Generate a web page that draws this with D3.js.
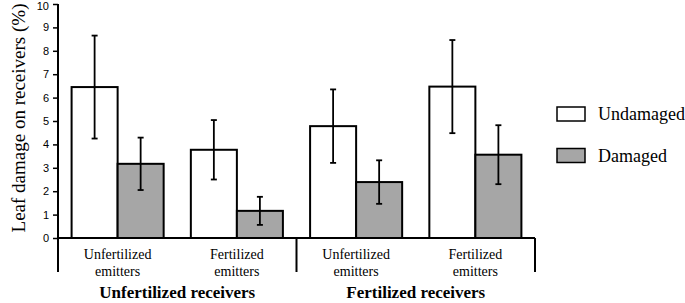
<!DOCTYPE html>
<html>
<head>
<meta charset="utf-8">
<script src="https://cdn.jsdelivr.net/npm/d3@7"></script>
<style>
  body { margin: 0; background: #fff; }
  svg { display: block; }
  .serif { font-family: 'Liberation Serif', 'Times New Roman', 'DejaVu Serif', serif; }
  .sans { font-family: 'Liberation Sans', Arial, sans-serif; }
</style>
</head>
<body>
<div id="chart"></div>
<script>
// Data
const groups = ['Unfertilized receivers', 'Fertilized receivers'];
const emitters = ['Unfertilized emitters', 'Fertilized emitters',
                  'Unfertilized emitters', 'Fertilized emitters'];
const series = ['Undamaged', 'Damaged'];
const undamaged = [6.45, 3.77, 4.78, 6.47];
const undamagedErr = [2.2, 1.27, 1.57, 1.99];
const damaged = [3.17, 1.16, 2.39, 3.56];
const damagedErr = [1.12, 0.6, 0.93, 1.26];
const yTicks = [0, 1, 2, 3, 4, 5, 6, 7, 8, 9, 10];

const width = 685, height = 303;
const plotLeft = 58, plotRight = 535, plotTop = 4, plotBottom = 238;

const svg = d3.select('#chart').append('svg')
  .attr('width', width).attr('height', height);

const y = d3.scaleLinear().domain([0, 10]).range([plotBottom, plotTop]);
const x = d3.scaleBand().domain(d3.range(4)).range([plotLeft, plotRight])
  .paddingInner(0.228).paddingOuter(0.114);
const xs = d3.scaleBand().domain(series).range([0, x.bandwidth()]);
const fill = d3.scaleOrdinal().domain(series).range(['#ffffff', '#a6a6a6']);

const rows = [];
d3.range(4).forEach(i => {
  rows.push({ i, s: 'Undamaged', v: undamaged[i], e: undamagedErr[i] });
  rows.push({ i, s: 'Damaged', v: damaged[i], e: damagedErr[i] });
});

// bars
svg.selectAll('rect.bar').data(rows).enter().append('rect')
  .attr('class', 'bar')
  .attr('x', d => x(d.i) + xs(d.s))
  .attr('y', d => y(d.v))
  .attr('width', xs.bandwidth())
  .attr('height', d => y(0) - y(d.v))
  .attr('fill', d => fill(d.s))
  .attr('stroke', '#000')
  .attr('stroke-width', 2);

// error bars
const eb = svg.selectAll('g.err').data(rows).enter().append('g')
  .attr('stroke', '#000').attr('stroke-width', 1.8);
const cx = d => x(d.i) + xs(d.s) + xs.bandwidth() / 2;
eb.append('line')
  .attr('x1', cx).attr('x2', cx)
  .attr('y1', d => y(d.v + d.e)).attr('y2', d => y(d.v - d.e));
eb.append('line')
  .attr('x1', d => cx(d) - 3).attr('x2', d => cx(d) + 3)
  .attr('y1', d => y(d.v + d.e)).attr('y2', d => y(d.v + d.e));
eb.append('line')
  .attr('x1', d => cx(d) - 3).attr('x2', d => cx(d) + 3)
  .attr('y1', d => y(d.v - d.e)).attr('y2', d => y(d.v - d.e));

// y axis
const yAxis = svg.append('g')
  .attr('transform', `translate(${plotLeft},0)`)
  .call(d3.axisLeft(y).tickValues(yTicks).tickSize(5).tickSizeOuter(0));
yAxis.attr('font-family', null).attr('font-size', null);
yAxis.select('.domain').remove();
yAxis.selectAll('line').attr('stroke', '#000').attr('stroke-width', 1.5);
yAxis.selectAll('text')
  .attr('x', -9)
  .attr('dy', d => d === 10 ? '0.5em' : '0.32em')
  .attr('class', 'sans')
  .attr('font-size', 11).attr('fill', '#000');

function line(x1, y1, x2, y2) {
  svg.append('line').attr('x1', x1).attr('y1', y1).attr('x2', x2).attr('y2', y2)
    .attr('stroke', '#000').attr('stroke-width', 2);
}
const sepX = x(2) - x.step() * x.paddingInner() / 2;
line(plotLeft, plotTop, plotLeft, 272);
line(plotLeft, plotBottom, plotRight, plotBottom);
line(sepX, plotBottom, sepX, 272);
line(plotRight, plotBottom, plotRight, 272);

// category labels
emitters.forEach((lab, i) => {
  const parts = lab.split(' ');
  const mx = x(i) + x.bandwidth() / 2;
  const t = svg.append('text')
    .attr('class', 'serif')
    .attr('text-anchor', 'middle')
    .attr('font-size', 14);
  t.append('tspan').attr('x', mx).attr('y', 259).text(parts[0]);
  t.append('tspan').attr('x', mx).attr('y', 276).text(parts[1]);
});

groups.forEach((g, j) => {
  const cxg = (x(2 * j) + x(2 * j + 1) + x.bandwidth()) / 2;
  svg.append('text')
    .attr('class', 'serif')
    .attr('x', cxg).attr('y', 298)
    .attr('text-anchor', 'middle')
    .attr('font-size', 17).attr('font-weight', 'bold')
    .text(g);
});

// y title
svg.append('text')
  .attr('class', 'serif')
  .attr('transform', 'translate(25,118) rotate(-90)')
  .attr('text-anchor', 'middle')
  .attr('font-size', 19)
  .text('Leaf damage on receivers (%)');

// legend
const legend = svg.selectAll('g.leg').data(series).enter().append('g')
  .attr('transform', (d, i) => `translate(557,${107 + i * 41.5})`);
legend.append('rect')
  .attr('width', 28).attr('height', 14)
  .attr('fill', d => fill(d)).attr('stroke', '#000').attr('stroke-width', 1.5);
legend.append('text')
  .attr('class', 'serif')
  .attr('x', 41).attr('y', 13)
  .attr('font-size', 18)
  .text(d => d);
</script>
</body>
</html>
